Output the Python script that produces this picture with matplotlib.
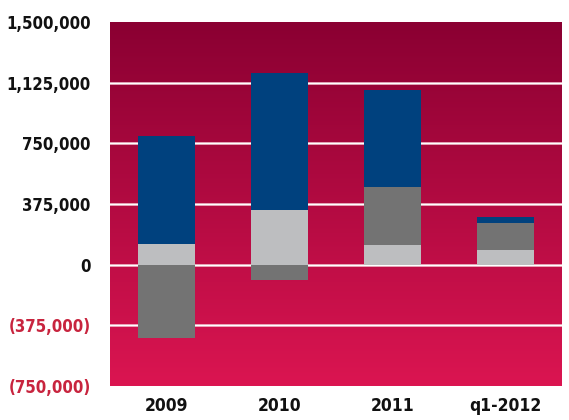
import matplotlib
matplotlib.use('Agg')
import matplotlib.pyplot as plt
import numpy as np
from matplotlib.colors import LinearSegmentedColormap

categories = ['2009', '2010', '2011', 'q1-2012']
light_gray = [130000, 341000, 124000, 93000]
dark_gray = [-454000, -93000, 353000, 167000]
blue = [665000, 843000, 601000, 37000]

yticks = [-750000, -375000, 0, 375000, 750000, 1125000, 1500000]
ytick_labels = ['(750,000)', '(375,000)', '0', '375,000', '750,000', '1,125,000', '1,500,000']

plt.rcParams['font.family'] = ['DejaVu Sans']
plt.rcParams['font.stretch'] = 'condensed'

fig = plt.figure(figsize=(5.69, 4.2), dpi=100)
ax = fig.add_axes([110 / 569, 1 - 386 / 420, 452 / 569, 364 / 420])

# gradient background, dark at top
cmap = LinearSegmentedColormap.from_list('bg', ['#8a0032', '#db1551'])
grad = np.linspace(0, 1, 256).reshape(-1, 1)
ax.imshow(grad, cmap=cmap, aspect='auto', extent=[0, 1, 0, 1], origin='upper',
          transform=ax.transAxes, zorder=0)

x = np.arange(len(categories))
w = 0.505
lg = np.array(light_gray)
dg = np.array(dark_gray)
bl = np.array(blue)

for yv in yticks[1:-1]:
    ax.axhline(yv, color='#f0c4cf', lw=1.8, zorder=1)
    ax.axhline(yv, color='white', lw=0.9, zorder=1)

ax.bar(x, lg, w, color='#bdbec0', zorder=2)
dg_bottom = np.where(dg > 0, lg, 0)
ax.bar(x, dg, w, bottom=dg_bottom, color='#737373', zorder=2)
bl_bottom = lg + np.where(dg > 0, dg, 0)
ax.bar(x, bl, w, bottom=bl_bottom, color='#00417e', zorder=3)

ax.set_xlim(-0.5, 3.5)
ax.set_ylim(-750000, 1500000)
ax.set_yticks(yticks)
ax.set_yticklabels(ytick_labels)
ax.set_xticks(x)
ax.set_xticklabels(categories)
for lab, v in zip(ax.get_yticklabels(), yticks):
    lab.set_color('#c8243e' if v < 0 else '#111111')
    lab.set_fontweight('bold')
    lab.set_fontsize(12)
for lab in ax.get_xticklabels():
    lab.set_fontweight('bold')
    lab.set_fontsize(12.5)
    lab.set_color('#111111')
ax.tick_params(axis='y', length=0, pad=14)
ax.tick_params(axis='x', length=0, pad=8)
for s in ax.spines.values():
    s.set_visible(False)

fig.savefig('out.png', dpi=100)
